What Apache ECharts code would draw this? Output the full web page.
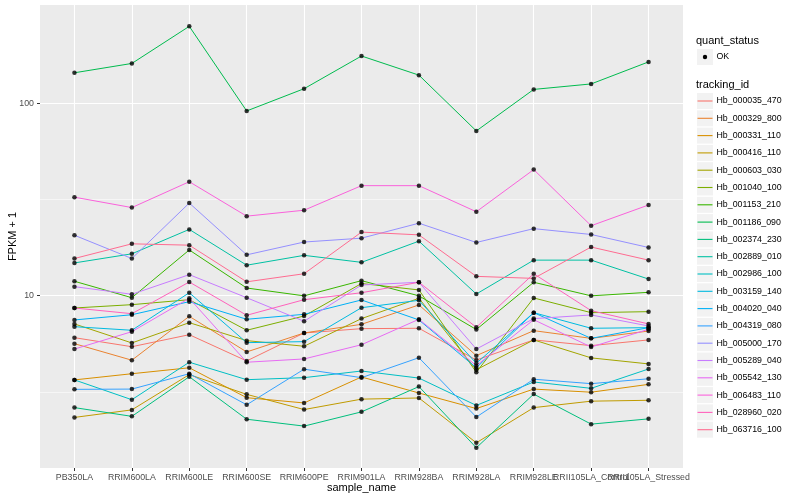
<!DOCTYPE html>
<html><head><meta charset="utf-8">
<script src="https://cdn.jsdelivr.net/npm/echarts@6/dist/echarts.min.js"></script>
<style>html,body{margin:0;padding:0;background:#fff}#c{width:800px;height:500px}</style>
</head><body><div id="c"></div>
<script>
const sampleNames = ['PB350LA','RRIM600LA','RRIM600LE','RRIM600SE','RRIM600PE','RRIM901LA','RRIM928BA','RRIM928LA','RRIM928LE','RRII105LA_Control','RRII105LA_Stressed'];
const trackingIds = ['Hb_000035_470','Hb_000329_800','Hb_000331_110','Hb_000416_110','Hb_000603_030','Hb_001040_100','Hb_001153_210','Hb_001186_090','Hb_002374_230','Hb_002889_010','Hb_002986_100','Hb_003159_140','Hb_004020_040','Hb_004319_080','Hb_005000_170','Hb_005289_040','Hb_005542_130','Hb_006483_110','Hb_028960_020','Hb_063716_100'];
const lineColors = ['#F8766D','#EA8331','#D89000','#C09B00','#A3A500','#7CAE00','#39B600','#00BB4E','#00BF7D','#00C1A3','#00BFC4','#00BAE0','#00B0F6','#35A2FF','#9590FF','#C77CFF','#E76BF3','#FA62DB','#FF62BC','#FF6C91'];
const quantStatus = ['OK'];

// FPKM + 1 per sample (order of sampleNames)
const Hb_000035_470 = [6.05, 5.43, 6.27, 4.58, 6.40, 6.74, 6.77, 4.63, 5.89, 5.50, 5.89];
const Hb_000329_800 = [5.63, 4.62, 7.81, 5.10, 6.40, 7.10, 8.95, 4.88, 6.58, 6.00, 6.55];
const Hb_000331_110 = [3.65, 3.93, 4.22, 2.95, 2.77, 3.78, 3.12, 2.59, 3.27, 3.15, 3.46];
const Hb_000416_110 = [2.33, 2.55, 3.89, 3.07, 2.56, 2.90, 2.94, 1.72, 2.62, 2.83, 2.86];
const Hb_000603_030 = [7.13, 5.68, 7.24, 5.84, 5.46, 7.60, 9.69, 4.12, 5.89, 4.75, 4.42];
const Hb_001040_100 = [8.63, 8.98, 9.53, 6.61, 7.84, 11.57, 10.71, 4.00, 9.73, 8.16, 8.26];
const Hb_001153_210 = [11.88, 9.76, 17.28, 10.96, 9.98, 11.97, 9.98, 6.67, 11.74, 9.98, 10.41];
const Hb_001186_090 = [144, 161, 251, 91.2, 119, 176, 140, 71.8, 118, 126, 164];
const Hb_002374_230 = [2.62, 2.36, 3.79, 2.28, 2.10, 2.49, 3.37, 1.62, 3.08, 2.15, 2.29];
const Hb_002889_010 = [14.8, 16.5, 22.1, 14.4, 16.2, 14.9, 19.2, 10.2, 15.3, 15.3, 12.2];
const Hb_002986_100 = [3.65, 2.88, 4.51, 3.66, 3.75, 4.06, 3.73, 2.69, 3.56, 3.30, 4.16];
const Hb_003159_140 = [6.90, 6.61, 10.36, 5.70, 5.77, 8.66, 9.46, 4.45, 8.16, 6.77, 6.82];
const Hb_004020_040 = [7.48, 7.96, 9.31, 7.54, 8.00, 9.50, 7.48, 4.22, 8.16, 6.00, 6.82];
const Hb_004319_080 = [3.26, 3.27, 3.93, 2.71, 4.15, 3.75, 4.76, 2.34, 3.68, 3.49, 3.70];
const Hb_005000_170 = [20.6, 15.6, 30.3, 16.3, 19.0, 19.9, 23.8, 18.9, 22.3, 20.8, 17.8];
const Hb_005289_040 = [11.14, 10.17, 12.86, 9.76, 7.36, 11.36, 11.74, 5.28, 7.60, 7.94, 6.96];
const Hb_005542_130 = [5.28, 6.50, 9.69, 4.51, 4.69, 5.56, 7.54, 4.33, 7.50, 5.41, 6.69];
const Hb_006483_110 = [32.5, 28.7, 39.1, 25.9, 27.8, 37.3, 37.3, 27.3, 45.2, 23.1, 29.6];
const Hb_028960_020 = [8.63, 8.06, 11.78, 7.91, 9.53, 10.36, 11.74, 6.85, 13.0, 8.36, 7.13];
const Hb_063716_100 = [15.6, 18.6, 18.3, 11.8, 13.0, 21.4, 20.7, 12.6, 12.3, 17.9, 15.3];

const yTickValues = [10, 100];
const yMinorValues = [3.1623, 31.623];
const yRange = [1.272, 324];

const seriesValues = [Hb_000035_470,Hb_000329_800,Hb_000331_110,Hb_000416_110,Hb_000603_030,Hb_001040_100,Hb_001153_210,Hb_001186_090,Hb_002374_230,Hb_002889_010,Hb_002986_100,Hb_003159_140,Hb_004020_040,Hb_004319_080,Hb_005000_170,Hb_005289_040,Hb_005542_130,Hb_006483_110,Hb_028960_020,Hb_063716_100];

const FONT = "'Liberation Sans', Arial, Helvetica, sans-serif";
const xIdx = sampleNames.map((_, i) => i);
const xIdxEven = xIdx.filter(i => i % 2 === 0);
const xIdxOdd = xIdx.filter(i => i % 2 === 1);

const lineSeries = trackingIds.map((id, k) => ({
  name: id, type: 'line', symbol: 'none', silent: true, z: 2, xAxisIndex: 0,
  data: seriesValues[k].map((v, j) => [j, v]),
  lineStyle: { width: 1, color: lineColors[k] },
  itemStyle: { color: lineColors[k] }
}));
const pointData = [];
seriesValues.forEach(arr => arr.forEach((v, j) => pointData.push([j, v])));

// legend (ggplot-style keys) built from the arrays
const LX = 697, KEY = 16, STEP = 17.3, FIRST = 101;
const txt = (t, x, y, size) => ({ type: 'text', x: x, y: y, z: 10, silent: true,
  style: { text: t, fontSize: size, fontFamily: FONT, fill: '#000', verticalAlign: 'middle', textVerticalAlign: 'middle' } });
const graphics = [ txt('quant_status', 696, 40.5, 11), txt('tracking_id', 696, 85, 11) ];
quantStatus.forEach((q, i) => {
  const cy = 57 + STEP * i;
  graphics.push({ type: 'rect', silent: true, z: 5, shape: { x: LX, y: cy - KEY / 2, width: KEY, height: KEY }, style: { fill: '#F2F2F2' } });
  graphics.push({ type: 'circle', silent: true, z: 6, shape: { cx: LX + KEY / 2, cy: cy, r: 2.2 }, style: { fill: '#000' } });
  graphics.push(txt(q, 716.5, cy, 8.8));
});
trackingIds.forEach((id, i) => {
  const cy = FIRST + STEP * i;
  graphics.push({ type: 'rect', silent: true, z: 5, shape: { x: LX, y: cy - KEY / 2, width: KEY, height: KEY }, style: { fill: '#F2F2F2' } });
  graphics.push({ type: 'line', silent: true, z: 6, shape: { x1: LX + 0.5, y1: cy, x2: LX + KEY - 0.5, y2: cy }, style: { stroke: lineColors[i], lineWidth: 1.1 } });
  graphics.push(txt(id, 716.5, cy, 8.8));
});

const xLabelFmt = v => (Math.abs(v - Math.round(v)) < 1e-6 && sampleNames[Math.round(v)] !== undefined) ? sampleNames[Math.round(v)] : '';
const xLabelStyle = { margin: 5, fontSize: 8.8, color: '#4D4D4D', fontFamily: FONT, hideOverlap: false,
  showMinLabel: true, showMaxLabel: true, formatter: xLabelFmt };

const option = {
  animation: false,
  backgroundColor: '#fff',
  textStyle: { fontFamily: FONT },
  grid: { left: 40, right: 117, top: 5, bottom: 32, show: true, backgroundColor: '#EBEBEB', borderWidth: 0,
    containLabel: false, outerBoundsMode: 'none' },
  xAxis: [{
    type: 'value', min: -0.6, max: 10.6, splitNumber: 11, position: 'bottom',
    name: 'sample_name', nameLocation: 'middle', nameGap: 14.5, nameMoveOverlap: false,
    nameTextStyle: { fontSize: 11, color: '#000', fontFamily: FONT },
    axisLine: { show: false, onZero: false },
    axisTick: { show: true, length: 3, customValues: xIdx, lineStyle: { color: '#333', width: 1 } },
    axisLabel: Object.assign({ customValues: xIdxEven }, xLabelStyle),
    splitLine: { show: true, lineStyle: { color: '#fff', width: 1.1 } }
  }, {
    type: 'value', min: -0.6, max: 10.6, splitNumber: 11, position: 'bottom', offset: 0,
    axisLine: { show: false, onZero: false },
    axisTick: { show: false, customValues: xIdxOdd },
    axisLabel: Object.assign({ customValues: xIdxOdd }, xLabelStyle),
    splitLine: { show: false }
  }],
  yAxis: {
    type: 'log', logBase: 10, min: yRange[0], max: yRange[1],
    name: 'FPKM + 1', nameLocation: 'middle', nameGap: 22, nameMoveOverlap: false,
    nameTextStyle: { fontSize: 11, color: '#000', fontFamily: FONT },
    axisLine: { show: false, onZero: false },
    axisTick: { show: true, length: 3, customValues: yTickValues, lineStyle: { color: '#333', width: 1 } },
    axisLabel: { customValues: yTickValues, margin: 6, fontSize: 8.8, color: '#4D4D4D', fontFamily: FONT,
      showMinLabel: true, showMaxLabel: true,
      formatter: v => { const r = Math.round(v); return (yTickValues.indexOf(r) >= 0 && Math.abs(v - r) < 1e-6) ? String(r) : ''; } },
    splitLine: { show: true, lineStyle: { color: '#fff', width: 1.1 } },
    minorSplitLine: { show: false }
  },
  graphic: graphics,
  series: [
    { type: 'line', data: [], silent: true, z: 1, xAxisIndex: 0,
      markLine: { silent: true, z: 1, symbol: 'none', label: { show: false }, animation: false,
        lineStyle: { color: '#fff', width: 0.55, type: 'solid' },
        data: yMinorValues.map(v => ({ yAxis: v })) } },
    ...lineSeries,
    { name: 'OK', type: 'scatter', data: pointData, symbol: 'circle', symbolSize: 4.5, silent: true, z: 3, xAxisIndex: 0,
      itemStyle: { color: '#000' } }
  ]
};
const chart = echarts.init(document.getElementById('c'));
chart.setOption(option);
</script></body></html>
